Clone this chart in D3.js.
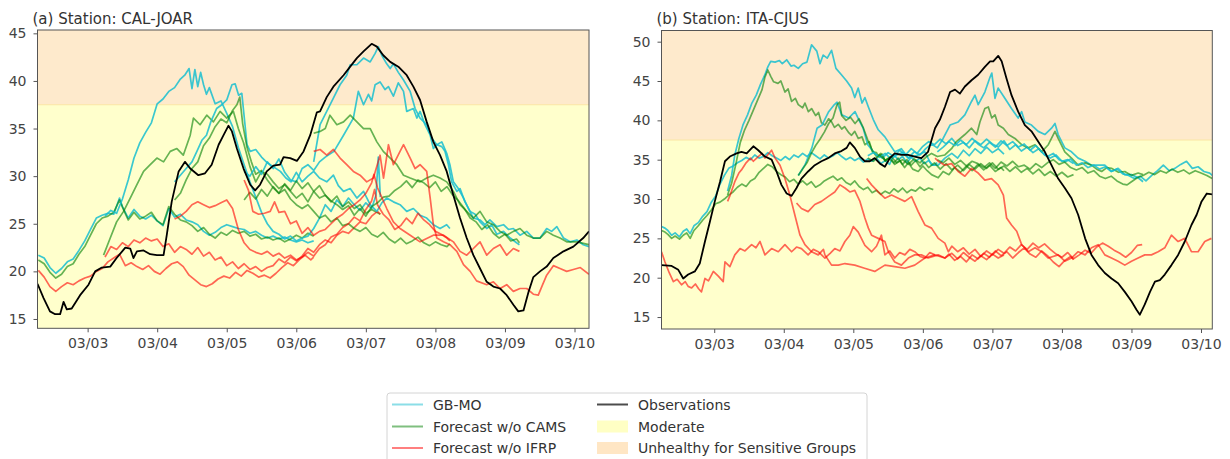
<!DOCTYPE html>
<html>
<head>
<meta charset="utf-8">
<script src="https://cdn.jsdelivr.net/npm/d3@7"></script>
<style>
  body { margin: 0; background: #fff; }
  svg { display: block; font-family: "DejaVu Sans", sans-serif; }
</style>
</head>
<body>
<div id="chart"></div>
<script>
// hours are counted from 03/02 00:00

var yTicksA = [15, 20, 25, 30, 35, 40, 45];
var yTicksB = [15, 20, 25, 30, 35, 40, 45, 50];
var dayTicks = ['03/03', '03/04', '03/05', '03/06', '03/07', '03/08', '03/09', '03/10'];
var moderateBand = [12.5, 37.5];
var usgBand = [37.5, 55.5];
var seriesNames = ['GB-MO', 'Forecast w/o CAMS', 'Forecast w/o IFRP', 'Observations'];
var bandNames = ['Moderate', 'Unhealthy for Sensitive Groups'];

// ---- station (a) CAL-JOAR ----
var obsA = [[6.7,18.7],[8.8,17.2],[11,15.8],[12.8,15.5],[14.5,15.5],[15.7,16.8],[16.8,16.0],[18.5,16.1],[21.4,17.5],[24.3,18.6],[26.6,20.0],[28.9,20.4],[31.8,20.5],[34,21.4],[37,22.5],[38.7,22.4],[39.8,21.4],[41,22.1],[43.3,22.2],[45.6,21.8],[47.9,21.7],[50.2,21.7],[51.3,23.8],[53,27.3],[55.4,30.5],[57.6,31.5],[59.4,30.8],[62.2,30.1],[64.5,30.3],[66.8,31.2],[69.2,33.3],[70.9,34.3],[72.6,35.3],[73.8,34.7],[75.5,32.9],[77.8,30.8],[80.1,29.1],[81.8,28.5],[83.5,29.1],[85.8,30.5],[88.1,31.1],[90.4,31.2],[91.6,32.0],[93.9,31.9],[96.2,31.6],[98.5,32.6],[100.8,34.3],[103.1,36.7],[104.2,36.8],[106.5,38.3],[108.8,39.4],[112.3,40.6],[114.6,41.5],[116.9,42.4],[119.2,43.1],[122,43.9],[123.8,43.6],[126,42.7],[128.4,42.0],[131.2,41.5],[134.1,40.6],[136.4,39.4],[138.7,38.0],[141,35.7],[143.3,33.6],[145.6,32.2],[147.9,30.5],[150.2,28.0],[152.5,25.6],[154.8,23.5],[157.1,21.7],[159.4,20.3],[161.7,18.9],[164,18.4],[166.3,18.2],[168.6,17.5],[170.9,16.5],[172.6,15.8],[174.4,15.9],[176.1,17.8],[177.8,19.4],[180.1,20.0],[182.4,20.5],[184.7,21.4],[188.2,22.1],[191.6,22.6],[195,23.5],[197,24.2]];

var gbmoA = [
  [[7,21.7],[9,21.4],[11,20.4],[13,19.8],[15,20.3],[17,21.0],[19,21.3],[21,22.2],[23,23.2],[25,24.4],[27,25.6],[29,25.9],[31,26.1],[33,26.0],[35,27.7],[36,26.8],[38,25.6],[40,26.5],[42,25.8],[44,25.5],[46,25.9],[48,25.3],[50,24.8],[52,26.6],[54,25.7],[56,26.0],[58,25.4],[60,25.2],[62,24.9],[64,24.2],[66,23.8],[68,24.1],[70,24.6],[72,24.9],[74,24.7],[76,24.5],[78,24.4],[80,24.0],[82,24.2],[84,23.8],[86,23.5],[88,23.7],[90,23.4],[92,23.6],[94,23.3],[96,23.1],[98,23.3],[100,23.0],[102,23.2]],
  [[30,25.8],[32,26.4],[34,26.1],[36,27.6],[38,29.6],[40,31.9],[42,33.5],[44,34.6],[46,35.6],[48,37.6],[50,38.1],[52,38.9],[54,39.3],[56,40.2],[57.5,40.6],[59,41.3],[60,39.2],[61,41.2],[62,39.4],[63,40.9],[64,39.6],[65,38.6],[66,39.3],[68,37.6],[70,37.9],[72,36.6],[74,35.2],[76,33.0],[78,31.2],[80,29.4],[82,27.8],[84,26.2],[86,25.0],[88,24.2],[90,23.9],[92,23.4],[94,23.7],[96,23.2],[98,23.5],[100,23.7],[102,24.5],[104,25.6],[106,27.0],[108,26.3],[110,27.5],[112,26.8],[114,27.7],[116,27.0],[118,26.4],[120,27.2],[122,26.6],[123.5,28.0],[124.3,32.0],[125,27.8]],
  [[54,29.4],[56,30.1],[58,30.8],[60,31.5],[61.7,32.6],[63.5,33.8],[65,34.3],[66.5,35.7],[68.5,37.1],[70.3,37.5],[72,38.0],[73.8,39.6],[74.9,39.7],[76.1,38.5],[77.2,38.7],[78.3,35.4],[79,33.3],[80.1,32.6],[82,32.8],[84,32.0],[86,31.4],[88,31.0],[90.5,30.5],[92.4,29.8],[94.2,29.4],[96,30.4],[98,29.4],[100,30.0],[102,30.5],[104,29.8],[106.5,29.4],[108.8,30.1],[110.5,29.0],[112.3,28.4],[114.6,28.7],[116.9,27.7],[119.2,28.4],[121.5,27.0],[123.8,26.3],[125.5,27.2],[127.2,27.7],[129.5,27.3],[131.8,27.0],[134.1,26.3],[136.4,26.6],[138.7,25.9],[141,25.6],[143.3,24.9],[145.6,24.5],[147.9,24.9],[149,24.5]],
  [[78,30.5],[80,30.0],[82,31.0],[84,30.2],[86,31.5],[88,30.8],[90,31.8],[92,30.4],[94,29.6],[96,29.4],[98,30.8],[100,31.2],[102,30.6],[104,31.5],[106,32.0],[109,32.6],[112.3,34.3],[115.7,36.1],[117.4,38.9],[119.2,37.5],[120.9,38.6],[122,37.9],[123.2,39.6],[124.9,39.9],[126.6,39.1],[127.8,39.4],[129.5,38.4],[131.2,39.8],[133,38.9],[134.1,36.8],[136.4,37.1],[137.6,36.1],[138.7,36.8],[140.4,35.4],[142.2,34.3],[143.3,32.9],[144.5,33.3],[146.2,33.1],[147.3,32.6],[148.5,31.2],[149.6,29.4],[151.4,28.4],[152.5,28.7],[154.2,27.3],[156,26.3],[157.7,26.0],[159.4,25.2],[161.7,24.5],[163.4,24.9],[165.2,23.9],[167.5,24.2],[169.8,23.5],[172,23.0],[173,22.8]],
  [[102,31.5],[104.2,35.4],[106.5,36.8],[108.8,38.2],[111.1,39.6],[113.4,40.6],[114.6,41.7],[116.9,41.7],[119.2,42.4],[121.5,42.0],[123.2,42.9],[124.3,43.6],[125.5,42.7],[127.2,41.8],[128.4,41.3],[129.5,41.8],[131.2,40.9],[133,40.1],[135.3,38.9],[137,37.1],[138.7,36.1],[141,35.4],[142.7,34.0],[144.5,33.3],[146.2,33.6],[147.9,32.4],[149,31.2],[150.2,29.4],[151.9,28.7],[153.7,27.7],[155.4,26.6],[157.1,25.6],[159.4,25.4],[161.1,24.9],[162.8,25.4],[165.2,24.7],[167.5,24.9],[169.2,24.4],[170.9,24.5],[173.2,23.8],[175.5,24.2],[177.8,23.5],[180.1,23.5],[182.4,24.5],[184.1,24.2],[185.9,24.7],[188.2,23.5],[190.5,23.1],[192.8,23.3],[195,22.8],[197,22.6]]
];

var noCamsA = [
  [[7,21.2],[9,20.8],[11,19.9],[13,19.3],[15,19.7],[17,20.5],[19,20.8],[21,21.8],[23,22.6],[25,23.8],[27,25.0],[29,25.6],[31,25.8],[33,26.2],[35,27.5],[36.5,26.4],[38,25.4],[40,26.2],[42,25.5],[44,25.8],[46,26.2],[48,25.3],[50,24.9],[52,26.8],[54,26.0],[56,25.4],[58,25.2],[60,24.8],[62,24.2],[64,24.6],[66,23.9],[68,23.5],[70,24.1],[72,23.8],[74,24.3],[76,24.0],[78,24.2],[80,23.7],[82,23.9],[84,23.4],[86,23.6],[88,23.3],[90,23.5],[92,23.1],[94,23.4],[96,23.8],[98,23.5],[100,24.0],[102,23.7]],
  [[29.5,21.7],[31.8,23.5],[34,25.2],[36.4,26.3],[38.7,27.7],[41,29.1],[43.3,30.5],[45.6,31.2],[47.9,31.9],[50.2,31.5],[52.5,32.6],[54.8,32.9],[57,32.2],[59.4,34.3],[60.5,36.1],[62.8,35.4],[65.1,36.4],[67.4,35.7],[69.7,36.8],[72,36.1],[74.3,36.8],[76,35.0],[77.8,33.5],[80,31.0],[82,29.4],[84,30.5],[86,30.2],[88,29.4],[90,28.7],[92,29.1],[94,28.4],[96,27.7],[98,28.2],[100,27.3],[102,28.4],[104,27.7],[106,28.0],[108,27.3],[110,27.9],[112,26.8],[114,27.3],[116,26.6],[118,27.0],[120,26.1],[122,26.5],[125,26.0]],
  [[54,27.5],[56,28.2],[58,29.6],[60,30.8],[62,31.5],[64,33.2],[66,34.0],[68,35.2],[70,36.0],[72,35.6],[74,36.9],[75.5,37.5],[76.5,38.3],[77.5,35.5],[79,33.0],[80.5,31.5],[82,30.2],[84,30.6],[86,29.6],[88,28.8],[90,28.2],[92,28.6],[94,27.6],[96,27.0],[98,26.6],[100,27.0],[102,26.3],[104,25.6],[106,25.9],[108,25.2],[110,25.6],[112,24.8],[114,25.0],[116,24.5],[118,24.2],[120,24.6],[122,23.9],[124,23.6],[126,24.1],[128,23.4],[130,23.0],[132,23.5],[134,22.9],[136,23.2],[138,23.6],[140,23.0],[142,22.7],[144,23.1],[146,22.8],[148,22.6],[149,22.9]],
  [[78,27.5],[80,28.3],[82,27.6],[84,28.6],[86,27.9],[88,28.9],[90,28.2],[92,29.2],[94,28.5],[96,29.5],[98,28.7],[100,29.3],[102,28.4],[104,29.0],[106,28.0],[108,27.4],[110,27.0],[112,26.5],[114,26.9],[116,25.9],[118,26.6],[120,25.8],[122,26.8],[124,27.2],[126,27.8],[128,27.9],[130,28.5],[132,28.9],[134,29.5],[136,28.8],[138,29.6],[140,29.3],[142,28.8],[144,29.4],[146,28.4],[148,28.9],[150,28.0],[152,27.4],[154,26.6],[156,25.6],[158,25.2],[160,24.4],[162,24.9],[164,24.0],[166,23.5],[168,23.9],[170,23.2],[172,23.4],[173,23.0]],
  [[102,34.5],[104.2,34.7],[106,35.0],[107.6,36.4],[110,35.4],[112.3,35.7],[114.6,36.4],[116.9,35.7],[119.2,35.0],[121.5,35.0],[123.8,33.6],[126,32.6],[128.4,31.9],[130.7,31.2],[133,30.1],[135.3,29.8],[138.7,29.4],[141,29.8],[143.3,30.1],[145.6,29.8],[147.9,29.4],[150.2,28.4],[152.5,27.0],[154.8,26.3],[157.1,25.6],[159.4,26.3],[161.7,25.2],[164,24.9],[166.3,24.2],[168.6,23.8],[170.9,24.2],[173.2,24.5],[175.5,23.8],[177.8,23.5],[180.1,23.5],[182.4,24.2],[184.7,23.8],[187,23.5],[189.3,23.1],[192.8,23.1],[197,22.8]]
];

var noIfrpA = [
  [[7,20.1],[9,19.4],[11,18.4],[13,17.9],[15,18.4],[17,18.8],[19,18.6],[21,19.0],[23,19.3],[25,19.5],[27,20.0],[29,20.3],[31,21.0],[33,21.4],[35,21.8],[37,20.6],[39,20.9],[41,20.5],[43,20.2],[45,20.6],[47,20.0],[49,19.7],[51,20.3],[53,20.8],[55,21.0],[57,20.5],[59,19.6],[61,19.1],[63,18.6],[65,18.4],[67,18.7],[69,19.2],[71,19.5],[73,19.3],[75,19.9],[77,19.5],[79,20.1],[81,19.8],[83,19.4],[85,19.6],[87,19.3],[89,19.8],[91,20.4],[93,20.9],[95,20.6],[97,21.2],[99,21.7],[101,21.2],[102,21.5]],
  [[30,21.5],[32,22.6],[34,22.3],[36,23.0],[38,22.6],[40,23.3],[42,23.0],[44,23.5],[46,23.2],[48,23.4],[50,22.6],[52,22.9],[54,22.0],[56,22.6],[58,22.3],[60,21.8],[62,22.5],[64,21.6],[66,22.0],[68,21.2],[70,21.5],[72,20.6],[74,21.0],[76,20.3],[78,20.8],[80,20.2],[82,20.5],[84,20.0],[86,20.4],[88,20.6],[90,21.3],[92,20.9],[94,21.5],[96,21.1],[98,21.6],[100,22.4],[102,22.0],[104,22.8],[106,23.3],[108,23.0],[110,23.8],[112,24.2],[114,24.0],[116,24.6],[118,25.2],[120,25.0],[122,25.8],[124,26.3],[125,26.0]],
  [[54,25.5],[56,25.8],[58,26.3],[60,27.0],[62,27.3],[64,27.0],[66,26.7],[68,26.9],[70,27.2],[72,27.5],[74,26.6],[76,24.4],[78,23.0],[80,22.3],[82,22.0],[84,21.8],[86,22.1],[88,21.6],[90,21.9],[92,21.4],[94,21.7],[96,21.2],[98,21.5],[100,22.0],[102,21.6],[104,22.4],[106,22.8],[108,23.6],[110,23.9],[112,24.6],[114,25.0],[116,25.7],[118,25.3],[120,26.5],[122,27.4],[123,28.6],[124,27.0],[126,26.0],[128,25.4],[130,24.4],[132,24.8],[134,25.6],[136,25.0],[138,26.1],[140,25.4],[142,24.9],[144,24.2],[146,23.9],[148,23.5],[149,23.2]],
  [[78,29.6],[79.5,28.5],[81,26.3],[83,26.0],[85,26.1],[87,26.3],[88.5,27.3],[90,26.2],[92,26.3],[94,25.0],[96,25.3],[98,24.0],[100,24.6],[102,23.8],[104,24.2],[106,24.4],[108,25.0],[110,25.6],[112,26.0],[114,26.6],[116,27.0],[118,27.5],[120,28.2],[122,29.3],[122.8,30.2],[124,28.8],[127.2,26.6],[129.5,25.2],[131.8,24.5],[135.3,23.8],[138.7,23.1],[143.3,23.8],[146.8,23.8],[150.2,23.1],[152.5,22.1],[154.8,21.7],[157.1,22.4],[159.4,23.1],[161.7,21.7],[164,22.4],[166.3,22.8],[168.6,21.7],[170.9,22.4],[173,22.1]],
  [[102,32.6],[104.2,32.8],[106.5,32.2],[108.8,32.8],[111.1,31.9],[113.4,31.2],[115.7,30.5],[118,30.1],[120.3,29.4],[122.6,29.8],[124.9,32.2],[126.1,29.8],[127.8,33.3],[129.5,31.2],[131.8,32.6],[133,33.3],[135.3,31.9],[137,30.8],[138.7,31.2],[141,30.5],[142.2,27.7],[143.3,24.9],[144.5,23.5],[146.8,23.1],[149,22.8],[151.4,22.1],[153.7,20.7],[156,20.0],[158.2,19.0],[161.7,18.6],[164,18.9],[166.3,18.2],[168.6,18.6],[170.9,17.9],[173.2,18.2],[175.5,18.2],[177.8,17.6],[179.5,17.5],[181,18.6],[182.4,19.6],[184.7,20.6],[187,20.3],[189.3,20.0],[191.6,20.2],[194,20.4],[197,19.7]]
];

// ---- station (b) ITA-CJUS ----
var obsB = [[5.8,21.6],[9.3,21.5],[11.6,21.0],[13.3,19.9],[15,20.4],[17.3,20.8],[19,21.8],[20.8,24.6],[22.5,27.1],[24.2,29.7],[26,32.2],[27.7,34.8],[29.4,35.4],[31.7,35.8],[33.4,36.0],[35.2,35.8],[37.5,36.7],[39.2,36.2],[41.5,35.4],[43.8,35.0],[45.5,33.5],[47.2,31.8],[49,30.7],[50.7,30.4],[52.4,31.4],[54.1,32.6],[56.4,33.5],[58.7,34.3],[61,34.8],[63.3,35.2],[65.6,35.8],[67.9,36.1],[69.7,36.5],[70.8,37.2],[72.5,36.5],[74.3,35.4],[76,34.8],[77.7,34.8],[79.4,35.2],[81.2,34.5],[82.9,34.1],[84.6,35.2],[86.3,35.8],[88.6,35.6],[90.9,35.6],[93.2,35.4],[95.5,35.2],[97.8,36.0],[100.2,39.0],[101.9,40.1],[103.6,41.7],[105.4,43.6],[107.1,43.9],[108.8,43.4],[110.5,44.3],[112.8,45.1],[115.1,45.8],[117.4,46.8],[119.2,47.5],[120.3,47.5],[122,48.2],[123.2,47.5],[124.9,45.3],[126.6,43.2],[128.9,41.1],[131.2,39.4],[133.5,38.6],[135.8,37.3],[138.1,36.0],[140.4,34.3],[142.7,32.6],[145,31.4],[147.3,30.1],[149.6,28.0],[152,25.0],[154.2,22.9],[156.5,21.6],[158.8,20.6],[161.1,19.9],[163.4,19.3],[165.7,18.2],[168,17.0],[169.8,15.9],[170.9,15.3],[172.6,16.6],[174.4,18.2],[176.1,19.5],[177.8,19.7],[179.5,20.4],[181.8,21.6],[184.1,22.9],[186.4,24.6],[188.7,26.7],[190.5,28.0],[192.2,29.7],[194,30.7],[195.9,30.6]];

var gbmoB = [
  [[5.8,26.5],[7,26.3],[8,26.0],[9.3,25.4],[10.5,25.7],[12,25.2],[13.3,25.9],[14.5,26.2],[15.7,25.6],[17,26.6],[18.5,27.0],[20,27.8],[21.5,28.4],[23,29.6],[24.5,30.4],[26,31.9],[27.5,33.0],[29,33.9],[30.5,34.2],[32,34.6],[33.5,34.9],[35,35.3],[36.5,35.0],[38,35.6],[39.5,35.2],[41,35.4],[42.5,35.9],[44,35.5],[45.5,35.2],[47,34.9],[48.5,35.4],[50,35.0],[51.5,35.6],[53,35.3],[54.5,35.8],[56,35.4],[57.5,35.9],[59,35.5],[60.5,35.1],[62,35.6],[63.5,35.2],[65,35.5],[66.5,35.9],[68,35.4],[69.5,35.0],[71,35.3],[72.5,34.9],[74,35.2],[75.5,34.7],[77,35.1],[78.5,34.8],[80,35.2],[81.5,34.5],[83,34.9],[84.5,34.4],[86,35.6],[87.5,35.0],[89,35.4],[90.5,34.6],[92,35.3],[93.5,34.8],[95,35.2],[96.5,34.5],[98,34.9],[99.5,34.3],[101,34.6]],
  [[28.6,31.0],[30,33.0],[31.1,35.6],[32.5,37.7],[34,39.5],[35.5,40.7],[37,42.2],[38.5,43.2],[40,44.6],[41.5,45.8],[42.5,46.8],[43.5,47.5],[45,47.4],[46.5,47.6],[47.5,47.2],[49,47.7],[50.5,46.9],[51.5,47.0],[53,46.6],[54.5,47.2],[56,47.4],[57.6,49.6],[59.4,48.8],[60.5,47.2],[61.6,48.3],[63,47.9],[64.5,48.9],[66,46.6],[67.9,45.8],[69.7,45.0],[71.4,44.1],[72.5,42.9],[73.7,44.1],[75,42.2],[76,42.9],[77.2,41.7],[78.9,40.1],[80.6,38.8],[82.9,37.9],[86.3,36.0],[88.6,36.4],[91,35.2],[94.4,35.6],[96.7,36.0],[99,34.3],[101.3,34.3],[103.6,35.2],[106,35.8],[108,35.2],[110,36.2],[112,35.5],[114,36.4],[116,35.8],[118,36.6],[120,35.9],[122,36.4],[124,35.7]],
  [[53,33.0],[55.4,34.4],[57.7,36.5],[59.5,39.0],[61.2,39.4],[63.5,41.1],[65.2,41.9],[66.4,42.3],[68,40.7],[70.4,40.3],[72.6,41.1],[74,40.0],[75.4,39.0],[77,36.9],[79.4,35.8],[82,35.2],[84,35.9],[86,35.4],[88,36.2],[90,35.6],[92,36.4],[94,35.8],[96,36.7],[98,37.3],[100,36.9],[102,37.6],[104,37.0],[106,37.7],[108,36.8],[110,37.2],[112,36.5],[114,37.4],[116,36.9],[118,37.6],[120,37.0],[122,36.6],[124,37.4],[126,36.3],[128,36.9],[130,36.1],[132,36.6],[134,35.9],[136,36.4],[138,35.6],[140,35.2],[142,35.6],[144,34.8],[146,35.0],[148,34.5]],
  [[77,35.5],[79,35.9],[81,35.3],[83,35.8],[85,35.1],[87,35.6],[89,35.9],[91,35.2],[93,36.0],[95,35.6],[97,36.4],[99,37.0],[101,36.5],[103,37.7],[105.4,39.4],[108.2,39.8],[110.5,40.7],[112.8,42.4],[114,43.2],[115.1,42.0],[117.4,43.6],[119.2,45.5],[119.8,46.0],[120.9,42.8],[122,44.1],[124.3,42.8],[126.6,41.5],[128.9,40.3],[130.1,41.1],[131.2,39.8],[133.5,39.4],[135.8,38.6],[138.1,38.2],[140.4,39.0],[141.6,39.6],[142.7,38.2],[145,36.5],[147.3,36.0],[149.6,35.2],[152,34.8],[154.2,34.3],[156.5,34.3],[158.8,34.3],[161.1,33.5],[163.4,33.9],[165.7,33.1],[168,33.1],[170.3,32.7],[172,32.2]],
  [[101,36.0],[103,36.6],[105,37.3],[107,36.8],[109,37.5],[111,36.9],[113,37.7],[115,37.0],[117,36.5],[119,37.2],[121,36.6],[123,37.4],[125,36.8],[127,37.3],[129,36.6],[131,37.0],[133,36.2],[135,36.8],[137,36.0],[139,35.4],[141,35.8],[143,35.0],[145,34.7],[147,35.1],[149,34.3],[151,34.6],[153,34.0],[155,34.3],[157,33.8],[159,34.1],[161,33.5],[163,33.8],[165,33.2],[167,33.0],[169,32.6],[171,32.9],[173,32.3],[175,33.0],[177,33.6],[179,34.3],[181,33.6],[183,33.9],[185,34.4],[187,34.8],[189,33.9],[191,34.1],[193,33.5],[195,33.3],[195.9,33.0]]
];

var noCamsB = [
  [[5.8,26.0],[7,25.8],[8,25.5],[9.3,25.0],[10.5,25.3],[12,24.9],[13.3,25.4],[14.5,25.7],[15.7,25.0],[17,26.0],[18.5,26.6],[20,27.3],[21.5,27.9],[23,28.6],[24.5,29.4],[26,29.6],[27.5,30.0],[29,30.5],[30.5,30.9],[32,31.5],[33.5,31.9],[35,31.6],[36.5,32.3],[38,32.6],[39.5,33.4],[41,33.9],[42.5,34.4],[44,34.1],[45.5,33.5],[47,33.1],[48.5,32.8],[50,32.2],[51.5,32.5],[53,31.9],[54.5,32.3],[56,31.8],[57.5,32.2],[59,31.5],[60.5,31.8],[62,32.3],[63.5,32.6],[65,32.9],[66.5,32.4],[68,32.7],[69.5,32.1],[71,31.8],[72.5,32.3],[74,31.6],[75.5,31.2],[77,31.5],[78.5,30.8],[80,31.1],[81.5,30.6],[83,31.0],[84.5,30.7],[86,31.3],[87.5,30.9],[89,31.4],[90.5,30.8],[92,31.2],[93.5,31.0],[95,31.5],[96.5,31.1],[98,31.4],[99.6,31.2]],
  [[28.6,30.5],[30,32.0],[31.5,34.5],[33,37.2],[34.5,38.8],[36,40.0],[37.5,41.3],[39,42.6],[40.5,43.9],[41.5,45.5],[42.5,46.4],[43.5,45.6],[44.5,44.9],[46,44.7],[47,45.0],[48.4,43.6],[49.5,44.0],[50.7,42.4],[52,42.8],[53,42.0],[54.5,41.6],[55.3,42.2],[56.5,41.1],[57.6,41.5],[59,40.6],[60,41.0],[61,39.7],[62.2,39.4],[63.5,40.2],[64.5,39.8],[65.5,39.1],[66.8,39.5],[68,38.9],[69,39.2],[70.5,38.4],[71.4,38.1],[72.5,38.6],[73.7,37.7],[75,37.9],[76,36.9],[77.5,37.3],[78.6,36.0],[80,35.9],[80.6,35.4],[82,35.7],[83,34.8],[84.5,35.2],[86.3,34.4],[88,34.9],[89.7,34.0],[91,34.6],[92.5,33.8],[94.4,33.5],[96,34.2],[97.5,33.6],[99,33.1],[101.3,32.7],[103,33.5],[105,33.1],[107,34.0],[109,33.4],[111,34.2],[113,33.6],[115,34.4],[117,33.7],[119,34.3],[121,33.5],[123,34.0],[124,33.6]],
  [[53,33.0],[54.5,33.8],[56,34.6],[57.5,35.8],[59,36.8],[60.5,37.6],[62,38.5],[63.5,39.6],[65,40.3],[66.4,42.0],[67.3,42.3],[68,40.6],[69.5,40.0],[71,40.4],[72.6,39.6],[74,40.2],[75.5,39.0],[77,37.5],[78.5,36.2],[80,35.4],[81.5,35.8],[83,34.9],[84.5,35.3],[86,34.6],[87.5,35.2],[89,34.4],[90.5,35.0],[92,34.3],[93.5,34.9],[95,34.1],[96.5,34.7],[98,34.0],[100,34.6],[102,33.8],[104,34.5],[106,33.7],[108,34.3],[110,33.6],[112,34.4],[114,33.8],[116,34.5],[118,33.9],[120,34.6],[122,33.8],[124,34.2],[126,33.5],[128,34.1],[130,33.4],[132,33.9],[134,33.2],[136,33.8],[138,33.0],[140,33.5],[142,32.9],[144,33.4],[146,32.8],[148,33.1]],
  [[77,35.2],[79,34.8],[81,35.6],[83,34.9],[85,35.4],[87,34.6],[89,35.0],[91,34.4],[93,35.1],[95,34.6],[97,35.3],[99,35.8],[101,35.4],[103.6,35.6],[105.9,36.4],[107.6,37.3],[110.5,38.2],[112.8,39.0],[114.6,38.2],[115.7,39.8],[117.4,41.5],[118.6,41.7],[119.8,40.3],[120.9,40.7],[122,39.4],[123.8,39.0],[125.5,38.2],[127.8,37.7],[130.1,36.9],[132.4,36.5],[134.7,36.9],[137,36.0],[139.3,36.9],[141.6,38.6],[142.7,37.7],[145,36.0],[147.3,35.2],[149.6,34.3],[152,34.6],[154.2,34.3],[156,33.8],[157.7,33.5],[159.5,34.0],[161.1,33.9],[163.5,33.4],[165.7,33.5],[168,33.0],[170.3,33.3],[172,33.1]],
  [[101,35.0],[103,34.6],[105,35.2],[107,34.4],[109,34.9],[111,34.2],[113,34.8],[115,34.5],[117,34.0],[119,34.6],[121,33.9],[123,34.7],[125,34.2],[127,34.8],[129,34.1],[131,34.3],[133,33.8],[135,34.5],[137,34.0],[139,34.6],[141,35.0],[143,34.4],[145,34.7],[147,34.0],[149,33.7],[151,34.0],[153,33.3],[155,33.6],[157,32.9],[159,32.6],[161,32.9],[163,32.3],[165,31.9],[166.5,31.8],[168,32.2],[170,32.7],[172,33.0],[174,33.4],[176,33.1],[178,33.6],[180,33.3],[182,33.8],[184,33.4],[186,33.7],[188,33.2],[190,33.6],[192,33.3],[194,33.0],[195.9,32.6]]
];

var noIfrpB = [
  [[5.8,23.3],[7,22.0],[8.5,20.6],[9.9,19.5],[11.2,19.8],[12.7,19.1],[14,19.5],[15,18.9],[16.2,18.7],[17.5,19.2],[18.6,18.6],[19.6,18.2],[20.8,19.9],[22,19.6],[23.7,20.8],[25.4,20.2],[27.1,19.5],[27.7,22.0],[29.4,21.4],[31.1,22.9],[32.9,23.7],[34.6,23.4],[36.9,24.2],[38.4,23.8],[39.8,24.6],[41.5,22.9],[43.8,23.7],[46.1,23.3],[48.4,24.2],[50.7,23.3],[52.4,23.9],[54.1,23.7],[56.4,22.9],[58.2,23.6],[59.9,23.3],[62.2,22.5],[64,23.1],[65.6,23.7],[67.4,23.4],[69.1,24.6],[70.8,25.4],[72,26.5],[73.7,25.8],[76,24.1],[78.3,23.3],[80,24.0],[81.7,25.4],[82.9,22.9],[84.6,23.4],[86.3,22.5],[88,23.2],[89.8,22.9],[91.5,23.6],[93.2,23.3],[95,22.7],[96.7,22.5],[98.4,23.2],[100.1,22.9]],
  [[28.6,29.7],[29.5,30.5],[31.1,32.2],[32.5,33.3],[33.4,33.7],[35,34.6],[36.5,35.2],[37.5,34.8],[39.2,35.4],[40.5,35.8],[41.5,35.2],[43.8,36.2],[45,35.2],[46.7,34.3],[48.4,32.6],[50.1,30.5],[51.8,28.0],[53.6,25.4],[55.3,24.2],[57.6,23.3],[59.9,22.9],[61.7,23.6],[62.2,22.9],[64.5,21.6],[66.8,21.6],[69.1,21.8],[72.5,21.6],[75.9,21.2],[79.4,20.8],[82.9,21.6],[86.3,21.4],[89.8,21.2],[93.2,21.6],[96.7,22.5],[100.1,22.9],[103.6,22.5],[106,23.1],[108,22.4],[110,23.2],[112,22.6],[114,22.1],[116,22.8],[118,22.3],[120,23.0],[122,22.5],[124,22.9]],
  [[52.4,29.5],[54.1,28.8],[56.4,28.4],[58.7,29.3],[61,29.7],[63.3,30.3],[65.6,30.9],[67.4,31.8],[69.1,31.4],[70.8,30.9],[72.5,31.1],[74.3,29.7],[76,27.6],[77.2,26.3],[78.3,25.4],[80.6,25.0],[82.9,24.6],[84.1,23.3],[86.3,22.0],[88.6,21.6],[91,22.5],[93.2,22.9],[95.5,22.9],[97.8,22.5],[101.3,22.9],[103.6,22.5],[105,23.0],[107,22.2],[109,22.7],[111,22.0],[113,22.9],[115,22.4],[117,23.1],[119,22.6],[121,23.4],[123,22.8],[125,23.3],[127,22.5],[129,23.2],[131,23.8],[133,23.0],[135,22.6],[137,23.4],[139,22.8],[141,22.0],[143,21.4],[145,22.2],[147,22.7],[148,22.3]],
  [[76.6,32.6],[78.3,31.8],[80.6,30.9],[82.9,30.1],[85.2,30.5],[87.5,30.1],[89.8,29.7],[92.1,30.3],[94.4,28.4],[96.7,26.7],[99,26.3],[101.3,25.0],[103.6,24.4],[104.8,23.3],[106,24.0],[108,23.3],[110,23.8],[112,23.0],[114,23.6],[116,22.7],[118,23.4],[120,22.9],[122,23.6],[124,23.1],[126,23.9],[128,23.4],[130,24.2],[132,23.6],[134,24.4],[136,23.8],[138,24.3],[140,23.6],[142,23.0],[144,22.6],[146,23.2],[148,22.4],[150,22.9],[152,23.5],[154,23.1],[156,23.9],[158,24.4],[160,24.0],[162,23.5],[164,23.1],[166,22.6],[168,23.2],[170,24.1],[171.7,24.2]],
  [[100.2,35.2],[101.3,34.8],[103.6,34.3],[105.9,34.5],[108.2,33.5],[110.5,32.9],[112.8,33.9],[115.1,33.3],[117.4,32.4],[119.7,32.6],[122,31.8],[123.8,30.5],[124.9,27.6],[126.6,26.7],[128.4,25.9],[130.1,24.2],[132.4,23.3],[134.7,23.8],[137,23.3],[139.3,22.5],[142.7,22.9],[145,22.1],[147.3,22.5],[149.6,23.3],[152,22.9],[154.2,23.8],[156.5,24.2],[158.8,22.9],[161.1,22.5],[163.4,22.1],[165.7,21.6],[168,22.1],[170.3,22.5],[172.6,22.9],[174.9,22.9],[177.2,23.3],[179.5,23.8],[181.8,25.4],[184.1,24.6],[186.4,25.0],[188.7,23.3],[191,23.3],[193.3,24.6],[195.6,25.0]]
];

// ---- layout ----
var width = 1230;
var height = 459;
var seriesColors = ['#17becf', '#008000', '#ff0000', '#000000'];
var seriesAlpha = [0.85, 0.6, 0.6, 1];
var bandColors = ['#ffffcc', '#feeacc'];

var panels = [
  { title: '(a) Station: CAL-JOAR', obs: obsA, runs: [gbmoA, noCamsA, noIfrpA], yTicks: yTicksA,
    left: 37.5, right: 589, top: 30, bottom: 328.3, yLim: [14.02, 45.35], hLim: [6.7, 197] },
  { title: '(b) Station: ITA-CJUS', obs: obsB, runs: [gbmoB, noCamsB, noIfrpB], yTicks: yTicksB,
    left: 661.5, right: 1212.3, top: 30.5, bottom: 329, yLim: [13.48, 51.42], hLim: [5.8, 195.9] }
];

var t0 = Date.UTC(2021, 2, 2);
function toDate(h) { return new Date(t0 + h * 3600e3); }
var tickDates = dayTicks.map(function (s) {
  var p = s.split('/');
  return new Date(Date.UTC(2021, +p[0] - 1, +p[1]));
});

var svg = d3.select('#chart').append('svg')
  .attr('width', width)
  .attr('height', height);

panels.forEach(function (p, pi) {
  var x = d3.scaleUtc().domain(p.hLim.map(toDate)).range([p.left, p.right]);
  var y = d3.scaleLinear().domain(p.yLim).range([p.bottom, p.top]);

  var clipId = 'clip' + pi;
  svg.append('clipPath').attr('id', clipId)
    .append('rect')
    .attr('x', p.left).attr('y', p.top)
    .attr('width', p.right - p.left).attr('height', p.bottom - p.top);

  var g = svg.append('g').attr('clip-path', 'url(#' + clipId + ')');

  // AQI bands
  [moderateBand, usgBand].forEach(function (b, i) {
    g.append('rect')
      .attr('x', p.left).attr('width', p.right - p.left)
      .attr('y', y(b[1])).attr('height', y(b[0]) - y(b[1]))
      .attr('fill', bandColors[i]);
  });
  g.append('line')
    .attr('x1', p.left).attr('x2', p.right)
    .attr('y1', y(moderateBand[1])).attr('y2', y(moderateBand[1]))
    .attr('stroke', '#fbe6a4').attr('stroke-width', 1);

  var line = d3.line()
    .x(function (d) { return x(toDate(d[0])); })
    .y(function (d) { return y(d[1]); });

  // forecast runs, one per initialisation day
  for (var r = 0; r < 5; r++) {
    p.runs.forEach(function (model, mi) {
      g.append('path')
        .datum(model[r])
        .attr('d', line)
        .attr('fill', 'none')
        .attr('stroke', seriesColors[mi])
        .attr('stroke-opacity', seriesAlpha[mi])
        .attr('stroke-width', 1.7)
        .attr('stroke-linejoin', 'round');
    });
  }

  g.append('path')
    .datum(p.obs)
    .attr('d', line)
    .attr('fill', 'none')
    .attr('stroke', seriesColors[3])
    .attr('stroke-width', 1.8)
    .attr('stroke-linejoin', 'round');

  // frame
  svg.append('rect')
    .attr('x', p.left).attr('y', p.top)
    .attr('width', p.right - p.left).attr('height', p.bottom - p.top)
    .attr('fill', 'none').attr('stroke', '#555').attr('stroke-width', 1);

  var xAxis = svg.append('g')
    .attr('transform', 'translate(0,' + p.bottom + ')')
    .call(d3.axisBottom(x).tickValues(tickDates).tickFormat(d3.utcFormat('%m/%d')).tickSize(4).tickPadding(6));
  var yAxis = svg.append('g')
    .attr('transform', 'translate(' + p.left + ',0)')
    .call(d3.axisLeft(y).tickValues(p.yTicks).tickSize(4).tickPadding(7));

  [xAxis, yAxis].forEach(function (ax) {
    ax.select('.domain').remove();
    ax.selectAll('line').attr('stroke', '#555');
    ax.selectAll('text').attr('fill', '#444').style('font-size', '14px').style('font-family', 'DejaVu Sans');
  });

  svg.append('text')
    .attr('x', p.left - 5).attr('y', 24)
    .attr('fill', '#333')
    .style('font-size', '15px')
    .text(p.title);
});

// legend
var legend = svg.append('g');
legend.append('rect')
  .attr('x', 387).attr('y', 393)
  .attr('width', 480).attr('height', 90)
  .attr('rx', 3)
  .attr('fill', '#fff').attr('stroke', '#d4d4d4');

var rowsY = [404.5, 426.5, 448];
var legendItems = [
  { col: 0, row: 0, kind: 'line', i: 0, label: seriesNames[0] },
  { col: 0, row: 1, kind: 'line', i: 1, label: seriesNames[1] },
  { col: 0, row: 2, kind: 'line', i: 2, label: seriesNames[2] },
  { col: 1, row: 0, kind: 'line', i: 3, label: seriesNames[3] },
  { col: 1, row: 1, kind: 'band', i: 0, label: bandNames[0] },
  { col: 1, row: 2, kind: 'band', i: 1, label: bandNames[1] }
];
var colX = [392, 597];

legendItems.forEach(function (it) {
  var x0 = colX[it.col];
  var yy = rowsY[it.row];
  if (it.kind === 'line') {
    legend.append('line')
      .attr('x1', x0).attr('x2', x0 + 31)
      .attr('y1', yy).attr('y2', yy)
      .attr('stroke', seriesColors[it.i])
      .attr('stroke-opacity', it.i === 3 ? 0.7 : 0.5)
      .attr('stroke-width', 2);
  } else {
    legend.append('rect')
      .attr('x', x0).attr('y', yy - 6)
      .attr('width', 31).attr('height', 12)
      .attr('fill', it.i === 0 ? '#ffffc4' : '#ffe6c4');
  }
  legend.append('text')
    .attr('x', x0 + 41).attr('y', yy)
    .attr('dy', '0.36em')
    .attr('fill', '#333')
    .style('font-size', '14px')
    .text(it.label);
});
</script>
</body>
</html>
